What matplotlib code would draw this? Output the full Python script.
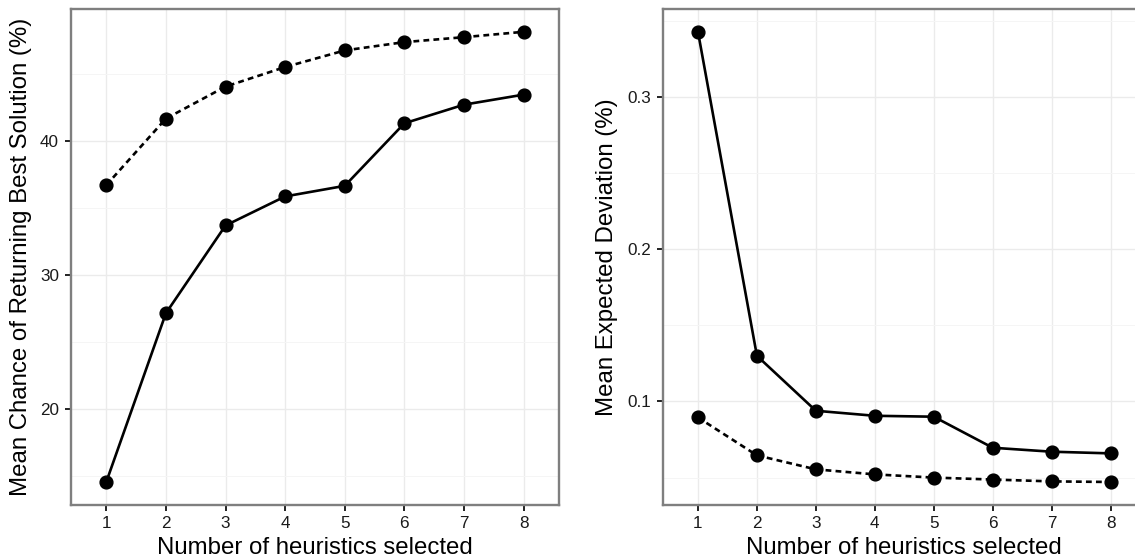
import matplotlib
matplotlib.use("Agg")
import matplotlib.pyplot as plt
from matplotlib.ticker import MultipleLocator, FuncFormatter

plt.rcParams['font.family'] = ['Liberation Sans', 'DejaVu Sans']

heuristics = [1, 2, 3, 4, 5, 6, 7, 8]
tick_labels = ["1", "2", "3", "4", "5", "6", "7", "8"]

chance_solid = [14.56, 27.16, 33.71, 35.88, 36.67, 41.34, 42.73, 43.48]
chance_dashed = [36.72, 41.69, 44.08, 45.54, 46.78, 47.40, 47.77, 48.17]

dev_solid = [0.3429, 0.1300, 0.0939, 0.0906, 0.0900, 0.0696, 0.0670, 0.0659]
dev_dashed = [0.0895, 0.0646, 0.0554, 0.0521, 0.0500, 0.0487, 0.0475, 0.0471]

W, H = 1135, 560
fig = plt.figure(figsize=(W / 100, H / 100), dpi=100)

def px_axes(x0, x1, y0, y1):
    return fig.add_axes([x0 / W, 1 - y1 / H, (x1 - x0) / W, (y1 - y0) / H])

ax1 = px_axes(70.5, 559.4, 9.3, 504.5)
ax2 = px_axes(662.6, 1146.0, 9.3, 504.5)

major_grid = '#EBEBEB'
minor_grid = '#F5F5F5'
lw = 1.9
ms = 9.2

def style(ax, solid, dashed, major, minor, ylabel, ylab_x):
    ax.set_xlim(0.4, 8.6)
    lo = min(min(solid), min(dashed))
    hi = max(max(solid), max(dashed))
    pad = (hi - lo) * 0.05
    ax.set_ylim(lo - pad, hi + pad)
    ax.yaxis.set_major_locator(MultipleLocator(major))
    ax.yaxis.set_minor_locator(MultipleLocator(minor))
    ax.set_xticks(heuristics)
    ax.set_xticklabels(tick_labels)
    ax.grid(which='major', color=major_grid, linewidth=1.0, zorder=0)
    ax.grid(which='minor', axis='y', color=minor_grid, linewidth=0.7, zorder=0)
    ax.set_axisbelow(True)
    ax.plot(heuristics, dashed, color='black', linewidth=lw, linestyle=(0, (2.2, 1.6)),
            marker='o', markersize=ms, zorder=3)
    ax.plot(heuristics, solid, color='black', linewidth=lw, linestyle='-',
            marker='o', markersize=ms, zorder=3)
    for sp in ax.spines.values():
        sp.set_color('#7F7F7F')
        sp.set_linewidth(1.7)
    ax.tick_params(which='major', length=4.0, width=1.4, color='#222222',
                   labelsize=12.3, labelcolor='#1A1A1A', pad=4.2)
    ax.tick_params(which='minor', length=0)
    ax.set_xlabel('Number of heuristics selected', fontsize=17.3, color='black', va='center')
    ax.xaxis.set_label_coords(0.5, (504.5 - 547.5) / 495.2)
    ax.set_ylabel(ylabel, fontsize=17.3, color='black', va='center')
    ax.yaxis.set_label_coords(ylab_x, 0.5)

style(ax1, chance_solid, chance_dashed, 10, 5,
      'Mean Chance of Returning Best Solution (%)', (21 - 70.5) / 488.9)
style(ax2, dev_solid, dev_dashed, 0.1, 0.05,
      'Mean Expected Deviation (%)', (607 - 662.6) / 483.4)
ax2.yaxis.set_major_formatter(FuncFormatter(lambda v, p: f"{v:.1f}"))

fig.savefig('out.png', dpi=100)
